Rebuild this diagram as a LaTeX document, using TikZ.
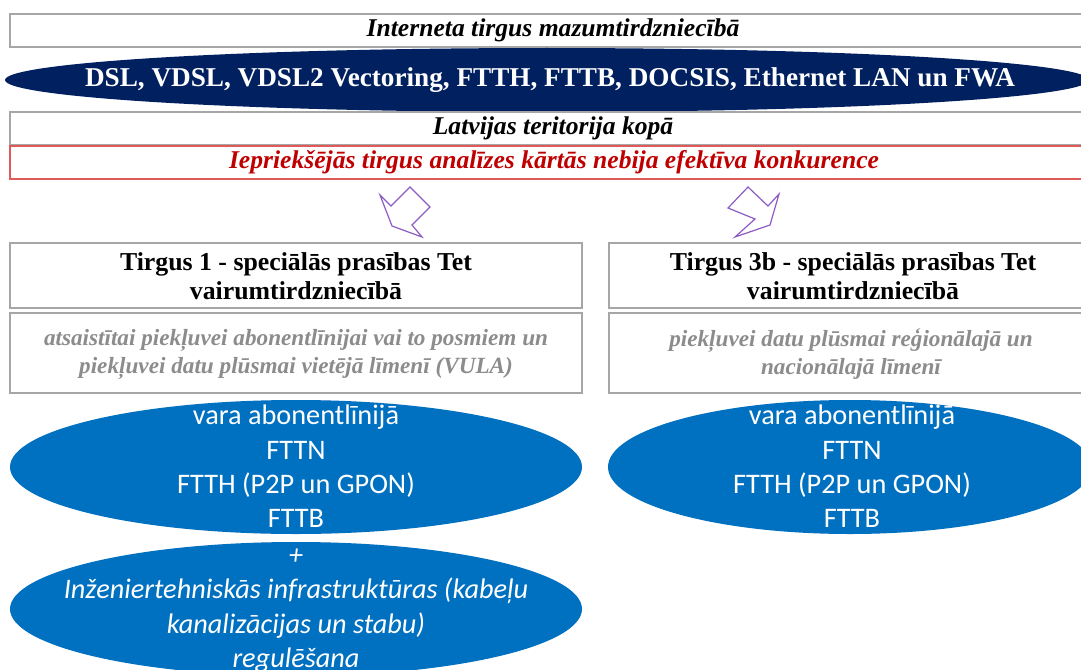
\documentclass[tikz,border=0pt]{standalone}
\usepackage{fontspec}
\setmainfont{Liberation Serif}
\newfontfamily\calib{Carlito}
\usetikzlibrary{shapes.geometric}
\definecolor{navy}{HTML}{002060}
\definecolor{mblue}{HTML}{0070C0}
\definecolor{bordgray}{HTML}{A6A6A6}
\definecolor{txtgray}{HTML}{8C8C8C}
\definecolor{redbord}{HTML}{E05A5A}
\definecolor{redtxt}{HTML}{C00000}
\definecolor{arrpurple}{HTML}{8C5CC4}
\tikzset{
  rowbox/.style={draw=bordgray, line width=1.5pt, fill=white, minimum width=1080pt, minimum height=33pt, inner sep=0pt},
  colbox/.style={draw=bordgray, line width=1.5pt, fill=white, inner sep=0pt},
  titletxt/.style={font=\fontsize{25.6}{28}\selectfont\bfseries\itshape},
  headtxt/.style={font=\fontsize{25.8}{29}\selectfont\bfseries, align=center},
  graytxt/.style={font=\fontsize{23.2}{28}\selectfont\bfseries\itshape, text=txtgray, align=center},
  elltxt/.style={font=\calib\fontsize{28.3}{34.3}\selectfont, text=white, align=center},
  blockarrow/.style={draw=arrpurple, line width=1.2pt, fill=white, line join=miter}
}
\begin{document}
\begin{tikzpicture}[x=1pt,y=-1pt]
\useasboundingbox (0,0) rectangle (1081,669);
\clip (0,0) rectangle (1081,669);
\fill[white] (0,0) rectangle (1081,669);
% top rows
\node[rowbox] (retail) at (550,30.5) {};
\node[titletxt] (retailtxt) at (553,30) {Interneta tirgus mazumtirdzniecībā};
\node[ellipse, fill=navy, minimum width=1084pt, minimum height=64pt, inner sep=0pt] (tech) at (547,80) {};
\node[font=\fontsize{27.2}{30}\selectfont\bfseries, text=white] (techtxt) at (550,80) {DSL, VDSL, VDSL2 Vectoring, FTTH, FTTB, DOCSIS, Ethernet LAN un FWA};
\node[rowbox] (terr) at (550,128.5) {};
\node[titletxt] (terrtxt) at (553,128) {Latvijas teritorija kopā};
\node[rowbox, draw=redbord] (prev) at (550,162.5) {};
\node[titletxt, text=redtxt] (prevtxt) at (554,162) {Iepriekšējās tirgus analīzes kārtās nebija efektīva konkurence};
% block arrows
\draw[blockarrow] (380,195) -- (391,206) -- (410,187) -- (430,207) -- (412,225) -- (422,237) -- (392,226) -- cycle;
\draw[blockarrow] (728,208) -- (748,187) -- (768,206) -- (779,194) -- (770,225) -- (735,237) -- (755,219) -- cycle;
% left column
\node[colbox, minimum width=572pt, minimum height=65pt] (m1) at (296,275.5) {};
\node[headtxt] (m1txt) at (296,276) {Tirgus 1 - speciālās prasības Tet\\vairumtirdzniecībā};
\node[colbox, minimum width=572pt, minimum height=80pt] (m1d) at (296,353) {};
\node[graytxt] (m1dtxt) at (296,354) {atsaistītai piekļuvei abonentlīnijai vai to posmiem un\\piekļuvei datu plūsmai vietējā līmenī (VULA)};
% right column
\node[colbox, minimum width=476pt, minimum height=65pt] (m3) at (847,275.5) {};
\node[headtxt] (m3txt) at (853,276) {Tirgus 3b - speciālās prasības Tet\\vairumtirdzniecībā};
\node[colbox, minimum width=476pt, minimum height=80pt] (m3d) at (847,353) {};
\node[graytxt] (m3dtxt) at (851,354) {piekļuvei datu plūsmai reģionālajā un\\nacionālajā līmenī};
% blue ellipses
\node[ellipse, fill=mblue, minimum width=572pt, minimum height=134pt, inner sep=0pt] (e1) at (296,467) {};
\node[elltxt] (e1txt) at (296,466.5) {vara abonentlīnijā\\FTTN\\FTTH (P2P un GPON)\\FTTB};
\node[ellipse, fill=mblue, minimum width=572pt, minimum height=134pt, inner sep=0pt] (e2) at (296,609) {};
\node[elltxt, font=\calib\itshape\fontsize{28.3}{34.3}\selectfont] (e2txt) at (296,610.5) {+\\Inženiertehniskās infrastruktūras (kabeļu\\kanalizācijas un stabu)\\regulēšana};
\node[ellipse, fill=mblue, minimum width=484pt, minimum height=134pt, inner sep=0pt] (e3) at (850,467) {};
\node[elltxt] (e3txt) at (852,466.5) {vara abonentlīnijā\\FTTN\\FTTH (P2P un GPON)\\FTTB};
\end{tikzpicture}
\end{document}
